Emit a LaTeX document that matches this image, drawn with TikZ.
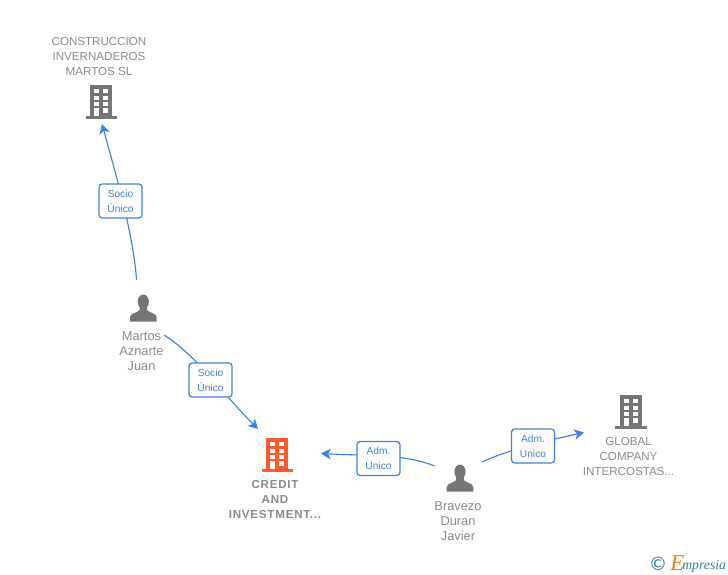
\documentclass[tikz,border=0pt]{standalone}
\usepackage{fontspec}
\usepackage{tikz}
\usetikzlibrary{arrows.meta}
\setmainfont{Liberation Sans}
\newfontfamily\logofont{Liberation Serif}
\newfontfamily\signfont{DejaVu Sans}
\newfontfamily\creditfont[LetterSpace=6.6]{Liberation Sans}
\definecolor{linkblue}{HTML}{4080E0}
\definecolor{inkgrey}{HTML}{8A8A8A}
\definecolor{iconGrey}{HTML}{757575}
\definecolor{iconOrange}{HTML}{FF5A2C}
\definecolor{logoTeal}{HTML}{2F7F95}
\definecolor{logoOrange}{HTML}{F07F14}
\newlength{\pxu}
\setlength{\pxu}{0.02cm}
\tikzset{
  name text/.style={text=inkgrey, align=center, inner sep=0pt, font=\fontsize{6.6}{8.55}\selectfont},
  person text/.style={name text, font=\fontsize{7.3}{8.55}\selectfont},
  main text/.style={name text, font=\creditfont\fontsize{6.6}{8.55}\selectfont\bfseries},
  rel box/.style={draw=linkblue, fill=white, rounded corners=1.8pt, line width=0.7pt, minimum width=43\pxu, minimum height=34\pxu, inner sep=0pt, align=center, text=linkblue, font=\fontsize{5.8}{8.55}\selectfont},
  link/.style={draw=linkblue, line width=0.65pt, -{Stealth[length=5.5pt,width=6pt,inset=1.5pt]}},
  pics/building/.style={code={
    \fill[#1] (-11,-17) rectangle (11,14);
    \fill[#1] (-15.5,14) rectangle (16,17);
    \foreach \wy in {-13,-6,0.3}{
      \fill[white] (-6.7,\wy) rectangle (-2,\wy+4);
      \fill[white] (2.3,\wy) rectangle (7.3,\wy+4);
    }
    \fill[white] (-6.7,6) rectangle (-2,14);
    \fill[white] (2.3,6) rectangle (7.3,11);
  }},
  pics/person/.style={code={
    \fill[iconGrey] (0,0) ellipse (5.6 and 7.2);
    \fill[iconGrey] (-13.3,20) -- (-13.3,15.5) .. controls (-13,11.5) and (-7,11.5) .. (-3.8,8.5) -- (-3.8,5) -- (3.8,5) -- (3.8,8.5) .. controls (7,11.5) and (13,11.5) .. (13.3,15.5) -- (13.3,20) -- cycle;
  }}
}
\begin{document}
\begin{tikzpicture}[x=0.02cm,y=-0.02cm]
\useasboundingbox (0,0) rectangle (728,575);
\pic at (101,102) {building=iconGrey};
\pic at (277,455) {building=iconOrange};
\pic at (630.5,412) {building=iconGrey};
\pic at (143.3,301.7) {person};
\pic at (460,471.7) {person};
\node[name text] (N1) at (99,56.5) {CONSTRUCCION\\INVERNADEROS\\MARTOS SL};
\node[person text] (N2) at (141.5,351.5) {Martos\\Aznarte\\Juan};
\node[main text] (N3) at (275,499.5) {CREDIT\\AND\\INVESTMENT...};
\node[person text] (N4) at (458,521.5) {Bravezo\\Duran\\Javier};
\node[name text] (N5) at (628.5,456.5) {GLOBAL\\COMPANY\\INTERCOSTAS...};
\coordinate (C1out) at (136.5,280);
\coordinate (C1in) at (102,124);
\coordinate (C2out) at (164,335);
\coordinate (C2in) at (258,429);
\coordinate (C3out) at (434.5,466);
\coordinate (C3in) at (321,453.5);
\coordinate (C4out) at (482,462);
\coordinate (C4in) at (584,432.5);
\draw[link] (C1out) .. controls (134,240) and (119,185) .. (C1in);
\draw[link] (C2out) .. controls (197,356) and (222,393) .. (C2in);
\draw[link] (C3out) .. controls (405,454) and (370,456) .. (C3in);
\draw[link] (C4out) .. controls (505,451) and (545,441) .. (C4in);
\node[rel box] (R1) at (120.5,201) {Socio\\Único};
\node[rel box] (R2) at (210.5,380) {Socio\\Único};
\node[rel box] (R3) at (378.5,458.5) {Adm.\\Unico};
\node[rel box] (R4) at (533,446) {Adm.\\Unico};
\node[inner sep=0pt, text=logoTeal, font=\signfont\fontsize{10.5}{12}\selectfont] (L1) at (658,564) {©};
\node[inner sep=0pt, anchor=base west, text=logoOrange, font=\logofont\itshape\fontsize{13}{14}\selectfont] (L2) at (670,570) {E};
\node[inner sep=0pt, anchor=base west, text=logoTeal, font=\logofont\itshape\fontsize{7.8}{10}\selectfont] (L3) at (682,569) {mpresia};
\end{tikzpicture}
\end{document}
